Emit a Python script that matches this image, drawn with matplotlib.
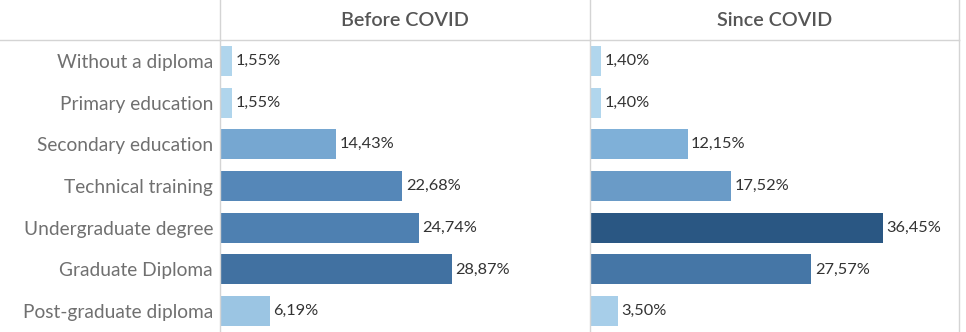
import matplotlib.pyplot as plt
from matplotlib.colors import LinearSegmentedColormap
from matplotlib.lines import Line2D

# data
categories = ["Without a diploma", "Primary education", "Secondary education",
              "Technical training", "Undergraduate degree", "Graduate Diploma",
              "Post-graduate diploma"]
before = [1.55, 1.55, 14.43, 22.68, 24.74, 28.87, 6.19]
since = [1.40, 1.40, 12.15, 17.52, 36.45, 27.57, 3.50]
panels = ["Before COVID", "Since COVID"]

plt.rcParams['font.family'] = ['Lato', 'DejaVu Sans']

W, H = 966, 332
fig = plt.figure(figsize=(W / 100, H / 100), dpi=100)

cmap = LinearSegmentedColormap.from_list(
    "tabblue", ["#b7daef", "#7fb0d8", "#4f81b3", "#2a5783"])
vmax = max(max(before), max(since))

top = 1 - 40 / H
lefts = [220, 590]
pw = 369
for k, (title, vals) in enumerate(zip(panels, [before, since])):
    ax = fig.add_axes([lefts[k] / W, 0, pw / W, top])
    y = range(len(categories))
    cols = [cmap(v / vmax) for v in vals]
    ax.barh(y, vals, height=0.72, color=cols, edgecolor="none")
    for yi, v in zip(y, vals):
        ax.text(v + 0.45, yi, f"{v:.2f}%".replace(".", ","), va="center",
                ha="left", fontsize=11.8, color="#333333")
    ax.set_xlim(0, pw / 8.03)
    ax.set_ylim(6.5, -0.5)
    for s in ["top", "bottom", "right"]:
        ax.spines[s].set_visible(False)
    ax.spines["left"].set_color("#d4d4d4")
    ax.spines["left"].set_linewidth(1)
    ax.set_xticks([])
    ax.tick_params(axis="y", length=0)
    if k == 0:
        ax.set_yticks(list(y))
        ax.set_yticklabels(categories, fontsize=13.8, color="#707070")
        ax.tick_params(axis="y", pad=5)
    else:
        ax.set_yticks([])
    fig.text((lefts[k] + pw / 2) / W, 1 - 21 / H, title, ha="center",
             va="center", fontsize=14.2, color="#555555", fontweight="semibold")

# header lines
fig.add_artist(Line2D([0, 959 / W], [top, top], color="#d4d4d4", lw=1))
for xp in [220, 590, 959]:
    fig.add_artist(Line2D([xp / W, xp / W], [top, 1], color="#d4d4d4", lw=1))
fig.add_artist(Line2D([959 / W, 959 / W], [0, top], color="#d4d4d4", lw=1))

fig.savefig("out.png", dpi=100)
